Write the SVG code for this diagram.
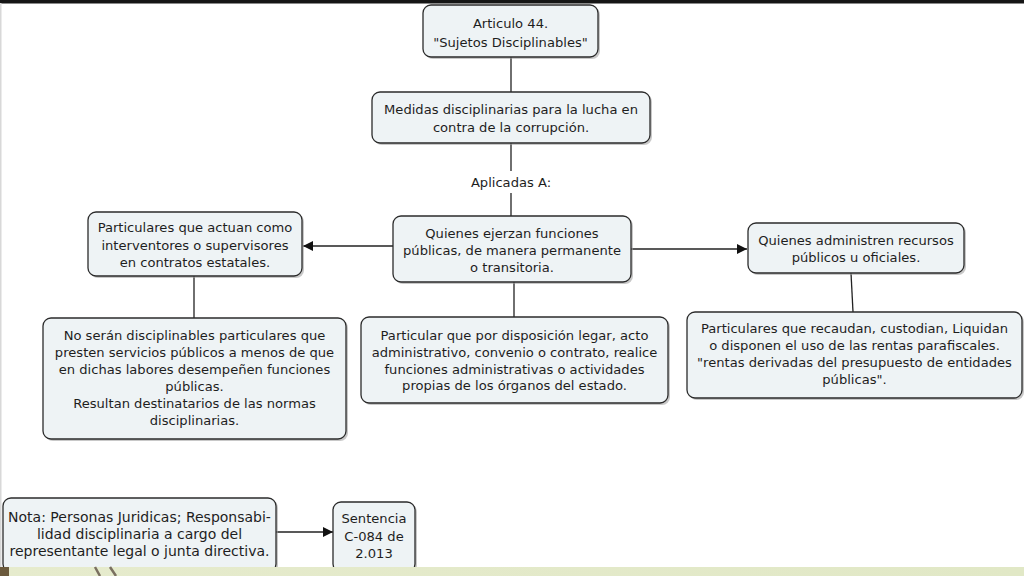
<svg xmlns="http://www.w3.org/2000/svg" width="1024" height="576" viewBox="0 0 1024 576">
<defs>
<style>
.box{fill:#eef3f5;stroke:#2b2b2b;stroke-width:1.3}
.sh{fill:#9a9a9a;opacity:0.55}
.t{font-family:"DejaVu Sans","Verdana",sans-serif;font-size:13.1px;fill:#1e1e1e;text-anchor:middle}
.tb{font-size:14px}
.ln{stroke:#222;stroke-width:1.3;fill:none}
</style>
<marker id="ah" viewBox="0 0 10 10" refX="10" refY="5" markerWidth="10" markerHeight="10" markerUnits="userSpaceOnUse" orient="auto">
<path d="M0,0 L10,5 L0,10 z" fill="#111"/>
</marker>
<linearGradient id="band" x1="0" y1="0" x2="1" y2="0">
<stop offset="0" stop-color="#e6ebcd"/>
<stop offset="1" stop-color="#e1e8c6"/>
</linearGradient>
</defs>
<rect x="0" y="0" width="1024" height="576" fill="#ffffff"/>
<rect x="0" y="0" width="1024" height="3.5" fill="#151515"/>
<rect x="0" y="3" width="1.5" height="565" fill="#d8d8d8"/>

<g id="connectors">
<line class="ln" x1="511" y1="57" x2="511" y2="92"/>
<line class="ln" x1="511" y1="143" x2="511" y2="171"/>
<line class="ln" x1="511" y1="193" x2="511" y2="216"/>
<line class="ln" x1="393" y1="246" x2="303" y2="246" marker-end="url(#ah)"/>
<line class="ln" x1="631" y1="249" x2="747" y2="249" marker-end="url(#ah)"/>
<line class="ln" x1="514" y1="282" x2="514" y2="317"/>
<line class="ln" x1="194" y1="276" x2="194" y2="318"/>
<line class="ln" x1="851" y1="273" x2="853" y2="312"/>
<line class="ln" x1="276" y1="532" x2="333" y2="532" marker-end="url(#ah)"/>
<text class="t" x="511" y="187">Aplicadas A:</text>
</g>

<g id="n-articulo">
<rect class="sh" x="425" y="7" width="175" height="52" rx="8"/>
<rect class="box" x="423" y="5" width="175" height="52" rx="8"/>
<text class="t" x="510.5" y="27.5">Articulo 44.</text>
<text class="t" x="510.5" y="46.5">"Sujetos Disciplinables"</text>
</g>

<g id="n-medidas">
<rect class="sh" x="374" y="94" width="278" height="51" rx="8"/>
<rect class="box" x="372" y="92" width="278" height="51" rx="8"/>
<text class="t" x="511" y="114">Medidas disciplinarias para la lucha en</text>
<text class="t" x="511" y="132">contra de la corrupción.</text>
</g>

<g id="n-quienes-ejerzan">
<rect class="sh" x="395" y="218" width="238" height="66" rx="8"/>
<rect class="box" x="393" y="216" width="238" height="66" rx="8"/>
<text class="t" x="512" y="238">Quienes ejerzan funciones</text>
<text class="t" x="512" y="255">públicas, de manera permanente</text>
<text class="t" x="512" y="272">o transitoria.</text>
</g>

<g id="n-particular">
<rect class="sh" x="363" y="319" width="307" height="86" rx="8"/>
<rect class="box" x="361" y="317" width="307" height="86" rx="8"/>
<text class="t" x="514.5" y="340">Particular que por disposición legar, acto</text>
<text class="t" x="514.5" y="357">administrativo, convenio o contrato, realice</text>
<text class="t" x="514.5" y="373.5">funciones administrativas o actividades</text>
<text class="t" x="514.5" y="390">propias de los órganos del estado.</text>
</g>

<g id="n-interventores">
<rect class="sh" x="90" y="214" width="214" height="64" rx="8"/>
<rect class="box" x="88" y="212" width="214" height="64" rx="8"/>
<text class="t" x="195" y="232">Particulares que actuan como</text>
<text class="t" x="195" y="249.5">interventores o supervisores</text>
<text class="t" x="195" y="267">en contratos estatales.</text>
</g>

<g id="n-no-seran">
<rect class="sh" x="45" y="320" width="303" height="121" rx="8"/>
<rect class="box" x="43" y="318" width="303" height="121" rx="8"/>
<text class="t" x="194.5" y="340">No serán disciplinables particulares que</text>
<text class="t" x="194.5" y="357">presten servicios públicos a menos de que</text>
<text class="t" x="194.5" y="373.5">en dichas labores desempeñen funciones</text>
<text class="t" x="194.5" y="390.5">públicas.</text>
<text class="t" x="194.5" y="407.5">Resultan destinatarios de las normas</text>
<text class="t" x="194.5" y="424.5">disciplinarias.</text>
</g>

<g id="n-administren">
<rect class="sh" x="750" y="225" width="216" height="50" rx="8"/>
<rect class="box" x="748" y="223" width="216" height="50" rx="8"/>
<text class="t" x="856" y="245">Quienes administren recursos</text>
<text class="t" x="856" y="261.5">públicos u oficiales.</text>
</g>

<g id="n-recaudan">
<rect class="sh" x="689" y="314" width="335" height="86" rx="8"/>
<rect class="box" x="687" y="312" width="335" height="86" rx="8"/>
<text class="t" x="854.5" y="333">Particulares que recaudan, custodian, Liquidan</text>
<text class="t" x="854.5" y="350">o disponen el uso de las rentas parafiscales.</text>
<text class="t" x="854.5" y="366.5">"rentas derivadas del presupuesto de entidades</text>
<text class="t" x="854.5" y="383.5">públicas".</text>
</g>

<g id="n-nota">
<rect class="sh" x="5" y="500" width="273" height="74" rx="8"/>
<rect class="box" x="3" y="498" width="273" height="74" rx="8"/>
<text class="t tb" x="139.5" y="522">Nota: Personas Juridicas; Responsabi-</text>
<text class="t tb" x="139.5" y="539">lidad disciplinaria a cargo del</text>
<text class="t tb" x="139.5" y="556">representante legal o junta directiva.</text>
</g>

<g id="n-sentencia">
<rect class="sh" x="335" y="504" width="82" height="70" rx="8"/>
<rect class="box" x="333" y="502" width="82" height="70" rx="8"/>
<text class="t" x="374" y="523">Sentencia</text>
<text class="t" x="374" y="541">C-084 de</text>
<text class="t" x="374" y="558">2.013</text>
</g>

<rect x="0" y="567" width="1024" height="9" fill="url(#band)"/>
<rect x="0" y="567" width="9" height="9" fill="#6b5a3c"/>
<path d="M95,567 L100,576 M110,567 L116,576" stroke="#7a7060" stroke-width="2.5" fill="none"/>
</svg>
